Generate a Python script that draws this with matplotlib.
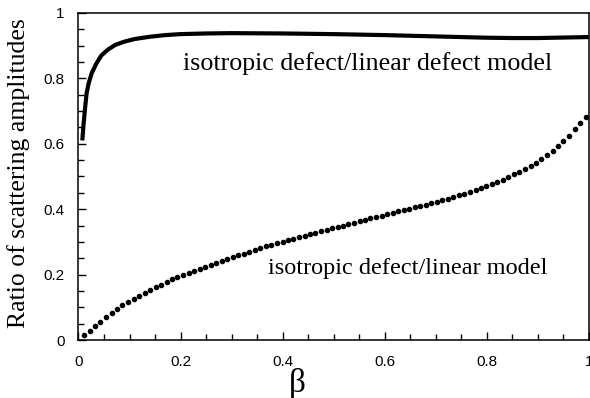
import matplotlib
matplotlib.use("Agg")
import matplotlib.pyplot as plt
from matplotlib.ticker import MultipleLocator

# Solid curve: isotropic defect / linear defect model
beta_solid = [0.0075, 0.010, 0.013, 0.016, 0.020, 0.026, 0.035, 0.045, 0.058, 0.072,
              0.090, 0.110, 0.140, 0.170, 0.200, 0.250, 0.300, 0.400, 0.500, 0.600,
              0.700, 0.800, 0.850, 0.900, 1.000]
ratio_solid = [0.610, 0.660, 0.710, 0.755, 0.785, 0.816, 0.845, 0.870, 0.888, 0.902,
               0.912, 0.920, 0.927, 0.932, 0.935, 0.937, 0.938, 0.937, 0.935, 0.932,
               0.928, 0.924, 0.923, 0.923, 0.926]

# Dotted curve: isotropic defect / linear model
beta_dots = [0.011, 0.022, 0.032, 0.043, 0.054, 0.065, 0.076, 0.086, 0.097, 0.108,
             0.119, 0.130, 0.140, 0.151, 0.162, 0.173, 0.184, 0.194, 0.205, 0.216,
             0.227, 0.238, 0.248, 0.259, 0.270, 0.281, 0.292, 0.302, 0.313, 0.324,
             0.335, 0.346, 0.356, 0.367, 0.378, 0.389, 0.400, 0.410, 0.421, 0.432,
             0.443, 0.454, 0.464, 0.475, 0.486, 0.497, 0.508, 0.518, 0.529, 0.540,
             0.551, 0.562, 0.572, 0.583, 0.594, 0.605, 0.616, 0.626, 0.637, 0.648,
             0.659, 0.670, 0.680, 0.691, 0.702, 0.713, 0.724, 0.734, 0.745, 0.756,
             0.767, 0.778, 0.788, 0.799, 0.810, 0.821, 0.832, 0.842, 0.853, 0.864,
             0.875, 0.886, 0.896, 0.907, 0.918, 0.929, 0.940, 0.950, 0.961, 0.972,
             0.983, 0.994]
ratio_dots = [0.015, 0.029, 0.042, 0.056, 0.070, 0.084, 0.096, 0.106, 0.116, 0.126,
              0.135, 0.144, 0.152, 0.161, 0.169, 0.178, 0.186, 0.192, 0.199, 0.205,
              0.211, 0.218, 0.224, 0.230, 0.236, 0.242, 0.248, 0.253, 0.259, 0.264,
              0.270, 0.275, 0.280, 0.286, 0.291, 0.296, 0.301, 0.305, 0.310, 0.315,
              0.319, 0.324, 0.328, 0.333, 0.337, 0.342, 0.346, 0.350, 0.355, 0.359,
              0.363, 0.368, 0.372, 0.376, 0.380, 0.384, 0.389, 0.393, 0.397, 0.401,
              0.406, 0.410, 0.414, 0.419, 0.423, 0.428, 0.432, 0.437, 0.442, 0.447,
              0.452, 0.458, 0.464, 0.470, 0.476, 0.483, 0.490, 0.498, 0.506, 0.514,
              0.523, 0.532, 0.541, 0.552, 0.564, 0.577, 0.592, 0.607, 0.625, 0.645,
              0.663, 0.683]

x_ticks = [0, 0.2, 0.4, 0.6, 0.8, 1]
x_tick_labels = ["0", "0.2", "0.4", "0.6", "0.8", "1"]
y_ticks = [0, 0.2, 0.4, 0.6, 0.8, 1]
y_tick_labels = ["0", "0.2", "0.4", "0.6", "0.8", "1"]

label_solid = "isotropic defect/linear defect model"
label_dots = "isotropic defect/linear model"

fig = plt.figure(figsize=(5.9, 3.98), dpi=100)
ax = fig.add_axes([0.133, 0.1457, 0.865, 0.822])

ax.plot(beta_solid, ratio_solid, color="black", lw=3.0, solid_capstyle="butt")
ax.plot(beta_dots, ratio_dots, linestyle="none", marker="o", markersize=3.0,
        color="black")

ax.set_xlim(0, 1)
ax.set_ylim(0, 1)
ax.set_xticks(x_ticks)
ax.set_xticklabels(x_tick_labels)
ax.set_yticks(y_ticks)
ax.set_yticklabels(y_tick_labels)
ax.xaxis.set_minor_locator(MultipleLocator(0.05))
ax.yaxis.set_minor_locator(MultipleLocator(0.05))
ax.tick_params(which="both", direction="in", top=False, right=False,
               labelsize=11, width=1.0)
ax.tick_params(axis="x", which="both", pad=11)
ax.tick_params(axis="y", which="both", pad=10)
ax.tick_params(which="major", length=6)
ax.tick_params(which="minor", length=4)
for lab in ax.get_xticklabels() + ax.get_yticklabels():
    lab.set_family("Liberation Sans")
for sp in ax.spines.values():
    sp.set_linewidth(1.1)

ax.set_ylabel("Ratio of scattering amplitudes", family="Liberation Serif",
              fontsize=18.5)
ax.yaxis.set_label_coords(-0.095, 0.51)
ax.set_xlabel("β", family="Liberation Serif", fontsize=24)
ax.xaxis.set_label_coords(0.428, -0.085)

ax.text(0.205, 0.845, label_solid, family="Liberation Serif", fontsize=18.7,
        ha="left", va="center")
ax.text(0.372, 0.22, label_dots, family="Liberation Serif", fontsize=17.5,
        ha="left", va="center")

fig.savefig("out.png", dpi=100)
